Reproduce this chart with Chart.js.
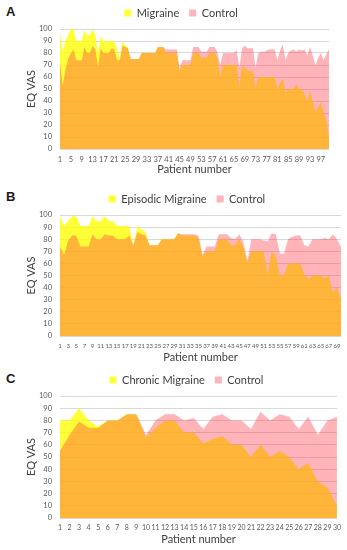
<!DOCTYPE html>
<html>
<head>
<meta charset="utf-8">
<script src="https://cdn.jsdelivr.net/npm/chart.js@4.4.0/dist/chart.umd.min.js"></script>
<style>
body { margin:0; background:#fff; width:347px; height:550px; position:relative; overflow:hidden; }
canvas { position:absolute; left:0; }
.panel { position:absolute; left:6px; font-family:'Liberation Sans', Arial, sans-serif; font-weight:bold; font-size:13px; color:#1a1a1a; }
</style>
</head>
<body>
<div class="panel" style="top:4px">A</div>
<div class="panel" style="top:189px">B</div>
<div class="panel" style="top:371px">C</div>
<canvas id="chartA" width="347" height="176" style="top:0px"></canvas>
<canvas id="chartB" width="347" height="188" style="top:176px"></canvas>
<canvas id="chartC" width="347" height="186" style="top:364px"></canvas>
<script>
// EQ VAS per patient
var migraineA = [97,81,90,95,100,100,90,90,90,99, 95,95,100,95,80,94,90,90,90,90,
  90,83,75,90,86,85,75,75,75,75, 80,80,80,80,80,80,85,85,85,80,
  80,80,80,80,65,70,70,70,70,80, 80,80,76,76,76,80,80,80,75,60,
  70,70,70,70,70,70,51,70,68,65, 65,65,50,60,60,60,60,60,60,60,
  50,55,59,47,50,50,50,54,50,50, 46,40,49,40,31,35,39,30,24,10];
var controlA = [72,53,66,75,80,83,74,74,74,85, 80,80,86,83,68,84,80,80,80,84,
  83,74,74,86,85,84,75,75,75,75, 80,80,80,80,80,80,85,85,85,83,
  83,83,83,83,67,74,74,74,74,85, 85,85,81,81,81,85,85,85,80,70,
  80,80,80,80,80,82,68,84,86,84, 84,84,68,80,81,81,82,83,83,83,
  74,82,87,74,80,82,83,81,83,82, 83,78,85,78,70,76,80,74,79,83];

var migraineB = [99,91,95,99,99,91,91,91,99,95, 95,99,95,95,91,91,91,91,75,91,
  88,86,75,75,75,80,80,80,80,85, 83,83,83,83,81,66,70,70,70,80,
  80,80,75,75,80,74,61,70,70,70, 70,51,70,66,50,50,60,60,60,60,
  51,47,50,50,50,48,50,36,40,31];
var controlB = [74,67,79,83,83,74,74,74,84,80, 80,84,83,83,80,80,80,83,75,86,
  84,83,75,75,75,80,80,80,80,85, 84,84,84,84,83,67,74,74,74,84,
  84,84,81,80,84,78,62,80,80,80, 79,78,85,84,68,68,80,82,83,83,
  75,74,80,80,80,81,80,84,80,74];

var migraineC = [80,80,90,80,75,80,80,85,85,66, 74,80,80,70,70,61,65,67,60,60,
  50,60,50,55,50,40,45,30,25,10];
var controlC = [55,68,79,74,74,80,80,85,85,68, 80,85,85,80,82,73,83,85,80,80,
  73,87,80,85,83,73,83,68,80,83];

var yTicks = [0,10,20,30,40,50,60,70,80,90,100];
var labelStepA = 4, labelStepB = 2, labelStepC = 1;

function patients(n) {
  var out = [];
  for (var i = 1; i <= n; i++) out.push(i);
  return out;
}

// lets the legend sit where the figure has it
var legendFix = {
  id: 'legendFix',
  beforeInit: function(chart, args, opts) {
    var h = opts.height;
    var fit = chart.legend.fit;
    chart.legend.fit = function() {
      fit.call(this);
      this.height = h;
    };
  },
  afterLayout: function(chart, args, opts) {
    var lg = chart.legend;
    lg.top = opts.textY - 15.5;
    lg.left += opts.dx;
    lg.right += opts.dx;
  }
};

function makeChart(id, migraine, control, name, step, cfg) {
  var ctx = document.getElementById(id);
  return new Chart(ctx, {
    type: 'line',
    data: {
      labels: patients(migraine.length),
      datasets: [
        {
          label: name,
          data: migraine,
          fill: 'origin',
          backgroundColor: 'rgba(255,255,0,0.78)',
          borderColor: 'rgba(0,0,0,0)',
          borderWidth: 0,
          pointRadius: 0,
          tension: 0,
          order: 2
        },
        {
          label: 'Control',
          data: control,
          fill: 'origin',
          backgroundColor: 'rgba(255,48,62,0.36)',
          borderColor: 'rgba(0,0,0,0)',
          borderWidth: 0,
          pointRadius: 0,
          tension: 0,
          order: 1
        }
      ]
    },
    options: {
      responsive: false,
      animation: false,
      events: [],
      layout: { padding: { left: 21, right: cfg.right, top: 0, bottom: cfg.bottom } },
      plugins: {
        legend: {
          position: 'top',
          labels: {
            boxWidth: 7,
            boxHeight: 7,
            padding: 10,
            color: '#404040',
            font: { family: 'Lato', size: 11 },
            sort: function(a, b) { return a.datasetIndex - b.datasetIndex; }
          }
        },
        tooltip: { enabled: false },
        legendFix: { height: cfg.top, textY: cfg.textY, dx: cfg.dx }
      },
      scales: {
        x: {
          grid: { display: false, drawTicks: false },
          border: { display: false },
          ticks: {
            autoSkip: false,
            maxRotation: 0,
            minRotation: 0,
            padding: 6,
            color: '#595959',
            font: { family: 'Lato', size: cfg.xfont },
            callback: function(v, i) {
              return i % step === 0 ? this.getLabelForValue(v) : null;
            }
          },
          title: {
            display: true,
            text: 'Patient number',
            color: '#404040',
            font: { family: 'Lato', size: 11 },
            padding: { top: 0, bottom: 0 }
          },
          afterFit: function(s) { s.height = cfg.xh; }
        },
        y: {
          min: 0,
          max: 100,
          afterBuildTicks: function(s) {
            s.ticks = yTicks.map(function(v) { return { value: v }; });
          },
          grid: { color: '#d9d9d9', drawTicks: false },
          border: { display: false },
          ticks: {
            padding: 8,
            color: '#595959',
            font: { family: 'Lato', size: 7.5 }
          },
          title: {
            display: true,
            text: 'EQ VAS',
            color: '#404040',
            font: { family: 'Lato', size: 11 },
            padding: { top: 4, bottom: 0 }
          },
          afterFit: function(s) { s.width = 39; }
        }
      }
    },
    plugins: [legendFix]
  });
}

makeChart('chartA', migraineA, controlA, 'Migraine', labelStepA,
  { right: 18, bottom: 0, top: 29, textY: 13, dx: 6, xh: 27, xfont: 7.5 });
makeChart('chartB', migraineB, controlB, 'Episodic Migraine', labelStepB,
  { right: 6, bottom: 0, top: 39, textY: 23, dx: 6, xh: 28, xfont: 6 });
makeChart('chartC', migraineC, controlC, 'Chronic Migraine', labelStepC,
  { right: 7, bottom: 4, top: 32, textY: 16, dx: 6, xh: 28, xfont: 7 });
</script>
</body>
</html>
